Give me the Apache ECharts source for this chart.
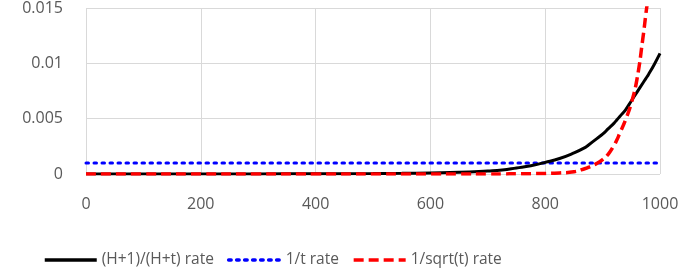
<!DOCTYPE html>
<html>
<head>
<meta charset="utf-8">
<script src="https://cdn.jsdelivr.net/npm/echarts@6/dist/echarts.min.js"></script>
<style>
  html, body { margin: 0; padding: 0; background: #fff; }
  #chart { width: 686px; height: 277px; }
</style>
</head>
<body>
<div id="chart"></div>
<script>
var tValues = [0, 100, 200, 300, 400, 500, 550, 600, 650, 700, 725, 750, 775, 800, 825, 850, 870, 875, 890, 900, 910, 920, 925, 930, 940, 950, 960, 970, 975, 980, 990, 1000]
var hRate = [0, 0, 0, 0.00001, 0.00002, 0.00004, 0.00006, 0.0001, 0.00015, 0.00028, 0.00037, 0.00055, 0.00075, 0.00105, 0.0014, 0.0019, 0.0024, 0.0026, 0.0032, 0.0036, 0.0041, 0.0046, 0.0049, 0.0052, 0.0058, 0.0066, 0.0074, 0.0082, 0.0086, 0.009, 0.0099, 0.0109]
var invRate = [0.001, 0.001, 0.001, 0.001, 0.001, 0.001, 0.001, 0.001, 0.001, 0.001, 0.001, 0.001, 0.001, 0.001, 0.001, 0.001, 0.001, 0.001, 0.001, 0.001, 0.001, 0.001, 0.001, 0.001, 0.001, 0.001, 0.001, 0.001, 0.001, 0.001, 0.001, 0.001]
var sqrtRate = [0, 0, 0, 0, 0, 0, 0, 0, 0, 0.00001, 0.00001, 0.00002, 0.00003, 0.00005, 0.0001, 0.0002, 0.0005, 0.0006, 0.00096, 0.0013, 0.0018, 0.0026, 0.0031, 0.0037, 0.0049, 0.0064, 0.0086, 0.0122, 0.0143, 0.0165, 0.023, 0.032]
var seriesNames = ['(H+1)/(H+t) rate', '1/t rate', '1/sqrt(t) rate']

function pairs(ys) {
  return tValues.map(function (t, i) { return [t, ys[i]] })
}

var chart = echarts.init(document.getElementById('chart'), null, { renderer: 'canvas' })
var font = '"Open Sans", Lato, sans-serif'
chart.setOption({
  animation: false,
  grid: { left: 86, right: 26, top: 7, bottom: 103 },
  legend: {
    left: 38,
    top: 247,
    itemWidth: 52,
    itemHeight: 14,
    itemGap: 13,
    itemStyle: { color: 'transparent', borderWidth: 0, opacity: 0 },
    lineStyle: { width: 3.5 },
    textStyle: { fontFamily: font, fontSize: 15.5, color: '#595959' },
    data: seriesNames
  },
  xAxis: {
    type: 'value',
    min: 0,
    max: 1000,
    interval: 200,
    axisLine: { show: false },
    axisTick: { show: false },
    axisLabel: { fontFamily: font, fontSize: 16, color: '#595959', margin: 22, formatter: function (v) { return String(v) } },
    splitLine: { lineStyle: { color: '#d9d9d9', width: 1 } }
  },
  yAxis: {
    type: 'value',
    min: 0,
    max: 0.015,
    interval: 0.005,
    axisLine: { show: false },
    axisTick: { show: false },
    axisLabel: { fontFamily: font, fontSize: 16, color: '#595959', margin: 23 },
    splitLine: { lineStyle: { color: '#d9d9d9', width: 1 } }
  },
  series: [{
    name: seriesNames[0],
    type: 'line',
    smooth: true,
    symbol: 'none',
    z: 3,
    lineStyle: { color: '#000000', width: 3 },
    itemStyle: { color: '#000000' },
    data: pairs(hRate)
  }, {
    name: seriesNames[1],
    type: 'line',
    symbol: 'none',
    z: 2,
    lineStyle: { color: '#0000ff', width: 3, type: [2.5, 5.5], cap: 'round' },
    itemStyle: { color: '#0000ff' },
    data: pairs(invRate)
  }, {
    name: seriesNames[2],
    type: 'line',
    smooth: true,
    symbol: 'none',
    z: 4,
    lineStyle: { color: '#ff0000', width: 3.5, type: [10, 5] },
    itemStyle: { color: '#ff0000' },
    data: pairs(sqrtRate)
  }]
})
</script>
</body>
</html>
